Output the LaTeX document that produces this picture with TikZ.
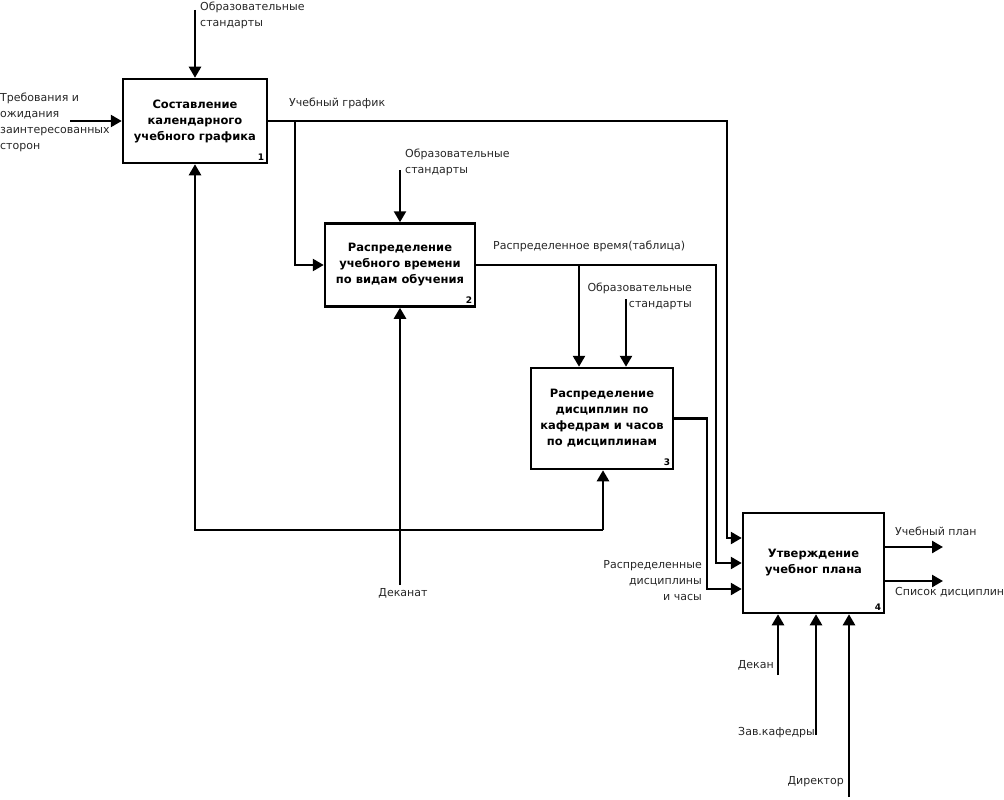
\documentclass[tikz,border=0pt]{standalone}
\usepackage{fontspec}
\setmainfont{DejaVu Sans}
\usetikzlibrary{arrows.meta}
\tikzset{
  pbox/.style={draw, line width=2.5pt, fill=white, align=center, inner sep=0pt,
    font=\fontsize{11.5}{16}\selectfont\bfseries},
  lbl/.style={inner sep=0pt, text=black!85, font=\fontsize{11}{16}\selectfont},
  num/.style={inner sep=0pt, font=\fontsize{9}{10}\selectfont\bfseries},
  arr/.style={line width=2.5pt, -{Triangle[length=11pt,width=12pt]}},
  ln/.style={line width=2.5pt}
}
\begin{document}
\begin{tikzpicture}[x=1pt,y=-1pt]
\useasboundingbox (0,0) rectangle (1004,800);
% boxes
\node[pbox, minimum width=144pt, minimum height=84pt] (b1) at (195,121)
  {Составление\\календарного\\учебного графика};
\node[pbox, minimum width=150pt, minimum height=83pt] (b2) at (400,265)
  {Распределение\\учебного времени\\по видам обучения};
\node[pbox, minimum width=142pt, minimum height=101pt] (b3) at (602,418.5)
  {Распределение\\дисциплин по\\кафедрам и часов\\по дисциплинам};
\node[pbox, minimum width=141pt, minimum height=100pt] (b4) at (813.5,563)
  {Утверждение\\учебног плана};
\node[num, anchor=south east] (n1) at ([xshift=-4pt,yshift=4pt]b1.south east) {1};
\node[num, anchor=south east] (n2) at ([xshift=-4pt,yshift=4pt]b2.south east) {2};
\node[num, anchor=south east] (n3) at ([xshift=-4pt,yshift=4pt]b3.south east) {3};
\node[num, anchor=south east] (n4) at ([xshift=-4pt,yshift=4pt]b4.south east) {4};
% coordinates
\coordinate (s1) at (195,10);
\coordinate (in1) at (70,121);
\coordinate (c1) at (727,538);
\coordinate (br1) at (295,121);
\coordinate (c2) at (716,563);
\coordinate (br2) at (579,265);
\coordinate (s2) at (400,170);
\coordinate (s3) at (626,299);
\coordinate (c3) at (707,589);
\coordinate (m2) at (400,585);
\coordinate (fb) at (603,530);
\coordinate (o1) at (943,547);
\coordinate (o2) at (943,581);
\coordinate (d1) at (778,675);
\coordinate (d2) at (816,735);
\coordinate (d3) at (849,797);
% connectors
\draw[arr] (s1) -- (s1 |- b1.north);
\draw[arr] (in1) -- (in1 -| b1.west);
\draw[arr] (b1.east) -| (c1) -- (c1 -| b4.west);
\draw[arr] (br1) |- (b2.west);
\draw[arr] (s2) -- (b2.north);
\draw[arr] (b2.east) -| (c2) -- (c2 -| b4.west);
\draw[arr] (br2) -- (br2 |- b3.north);
\draw[arr] (s3) -- (s3 |- b3.north);
\draw[arr] (b3.east) -| (c3) -- (c3 -| b4.west);
\draw[arr] (m2) -- (b2.south);
\draw[arr] (fb) -- (fb |- b3.south);
\draw[arr] (fb) -| (b1.south);
\draw[arr] (b4.east |- o1) -- (o1);
\draw[arr] (b4.east |- o2) -- (o2);
\draw[arr] (d1) -- (d1 |- b4.south);
\draw[arr] (d2) -- (d2 |- b4.south);
\draw[arr] (d3) -- (d3 |- b4.south);
% labels
\node[lbl, anchor=north west, align=left] (t1) at (200,2) {Образовательные\\стандарты};
\node[lbl, anchor=north west, align=left] (t2) at (0,93) {Требования и\\ожидания\\заинтересованных\\сторон};
\node[lbl, anchor=north west] (t3) at (289,98) {Учебный график};
\node[lbl, anchor=north west, align=left] (t4) at (405,149) {Образовательные\\стандарты};
\node[lbl, anchor=north west] (t5) at (493,241) {Распределенное время(таблица)};
\node[lbl, anchor=north east, align=right] (t6) at (692,283) {Образовательные\\стандарты};
\node[lbl, anchor=north east, align=right] (t7) at (702,560) {Распределенные\\дисциплины\\и часы};
\node[lbl, anchor=north] (t8) at (403,588) {Деканат};
\node[lbl, anchor=north west] (t9) at (895,527) {Учебный план};
\node[lbl, anchor=north west] (t10) at (895,587) {Список дисциплин};
\node[lbl, anchor=north east] (t11) at (774,660) {Декан};
\node[lbl, anchor=north east] (t12) at (815,727) {Зав.кафедры};
\node[lbl, anchor=north east] (t13) at (844,776) {Директор};
\end{tikzpicture}
\end{document}
